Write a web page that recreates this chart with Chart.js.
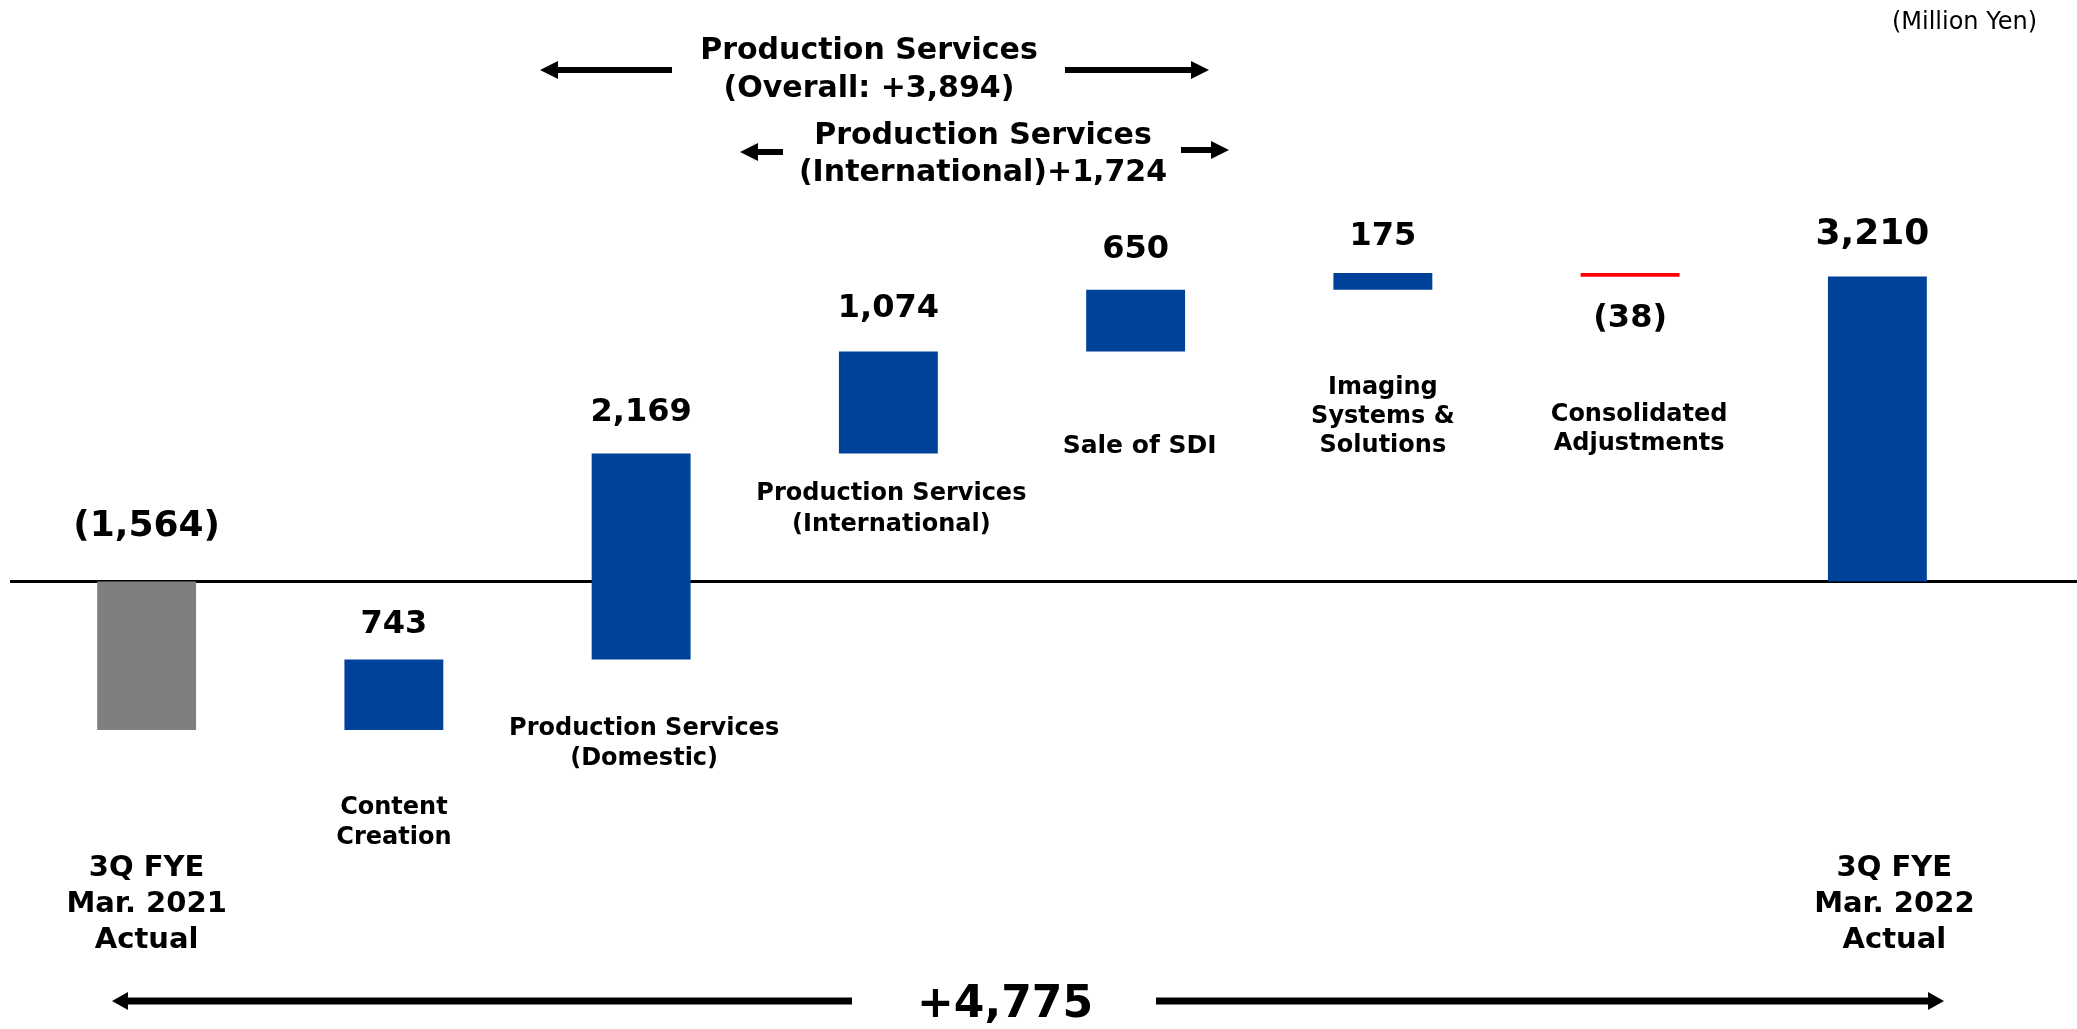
<!DOCTYPE html>
<html lang="en">
<head>
<meta charset="UTF-8">
<title>Operating income bridge</title>
<script src="https://cdn.jsdelivr.net/npm/chart.js@4.4.0/dist/chart.umd.min.js"></script>
<style>
*{box-sizing:border-box;margin:0;padding:0}
body{background:#fff;width:2077px;height:1029px;overflow:hidden}
.wrap{position:relative;width:2077px;height:1029px}
</style>
</head>
<body>
<div class="wrap"><canvas id="bridge"></canvas></div>
<script>
// data
const categories = [
  ["3Q FYE", "Mar. 2021", "Actual"],
  ["Content", "Creation"],
  ["Production Services", "(Domestic)"],
  ["Production Services", "(International)"],
  ["Sale of SDI"],
  ["Imaging", "Systems &", "Solutions"],
  ["Consolidated", "Adjustments"],
  ["3Q FYE", "Mar. 2022", "Actual"]
];
const values = [-1564, 743, 2169, 1074, 650, 175, -38, 3210];
const valueLabels = ["(1,564)", "743", "2,169", "1,074", "650", "175", "(38)", "3,210"];
const kinds = ["total", "step", "step", "step", "step", "step", "step", "total"];
const unitLabel = "(Million Yen)";
const overallText = ["Production Services", "(Overall: +3,894)"];
const intlText = ["Production Services", "(International)+1,724"];
const totalChange = "+4,775";

// floating ranges for the waterfall
let cum = 0;
const ranges = values.map((v, i) => {
  if (kinds[i] === "total") { cum = v; return [0, v]; }
  const r = [cum, cum + v];
  cum += v;
  return r;
});
const barColors = values.map((v, i) => i === 0 ? "#7f7f7f" : (kinds[i] === "step" && v < 0 ? "#ff0000" : "#00419a"));

// layout for the hand-placed texts (px)
const catLabelPos = [
  { dx: 0, y: 868, gap: 36, size: 29 },
  { dx: 0, y: 808, gap: 30, size: 24 },
  { dx: 3, y: 729, gap: 30, size: 24 },
  { dx: 3, y: 494, gap: 31, size: 24 },
  { dx: 4, y: 446, gap: 30, size: 25 },
  { dx: 0, y: 388, gap: 29, size: 24 },
  { dx: 9, y: 415, gap: 29, size: 24 },
  { dx: 17, y: 868, gap: 36, size: 29 }
];
const valueOffset = [55, 35, 41, 43, 40, 36, 42, 42];
const valueDx = [0, 0, 0, 0, 0, 0, 0, -5];
const FONT = "'DejaVu Sans', Verdana, sans-serif";

function arrow(ctx, x1, x2, y, w, hl, hw) {
  // arrow from x1 (tail) to x2 (tip)
  const dir = x2 > x1 ? 1 : -1;
  ctx.fillStyle = "#000";
  ctx.fillRect(Math.min(x1, x2 - dir * hl), y - w / 2, Math.abs(x2 - dir * hl - x1), w);
  ctx.beginPath();
  ctx.moveTo(x2, y);
  ctx.lineTo(x2 - dir * hl, y - hw);
  ctx.lineTo(x2 - dir * hl, y + hw);
  ctx.closePath();
  ctx.fill();
}

function lines(ctx, arr, x, y, gap) {
  arr.forEach((t, k) => ctx.fillText(t, x, y + k * gap));
}

const decor = {
  id: "decor",
  beforeDatasetsDraw(chart) {
    const { ctx, scales: { y } } = chart;
    const y0 = y.getPixelForValue(0);
    ctx.save();
    ctx.fillStyle = "#000";
    ctx.fillRect(10, y0 - 1.5, chart.width - 10, 3);
    ctx.restore();
  },
  afterDatasetsDraw(chart) {
    const { ctx, scales: { x, y } } = chart;
    ctx.save();
    ctx.fillStyle = "#000";
    ctx.textAlign = "center";
    ctx.textBaseline = "middle";

    // value labels
    ranges.forEach((r, i) => {
      const big = kinds[i] === "total";
      ctx.font = `bold ${big ? 36 : 32}px ${FONT}`;
      const cx = x.getPixelForValue(i) + valueDx[i];
      let ly;
      if (kinds[i] === "step" && values[i] < 0) {
        ly = y.getPixelForValue(Math.min(r[0], r[1])) + valueOffset[i];
      } else {
        ly = y.getPixelForValue(Math.max(r[0], r[1])) - valueOffset[i];
      }
      ctx.fillText(valueLabels[i], cx, ly);
    });

    // category labels
    categories.forEach((c, i) => {
      const p = catLabelPos[i];
      ctx.font = `bold ${p.size}px ${FONT}`;
      lines(ctx, c, x.getPixelForValue(i) + p.dx, p.y, p.gap);
    });

    // top annotations
    ctx.font = `bold 30px ${FONT}`;
    lines(ctx, overallText, 869, 51, 38);
    lines(ctx, intlText, 983, 136, 37);
    arrow(ctx, 672, 540, 70, 6, 18, 9);
    arrow(ctx, 1065, 1209, 70, 6, 18, 9);
    arrow(ctx, 783, 740, 152, 6, 18, 9);
    arrow(ctx, 1181, 1229, 150, 6, 18, 9);

    // total change
    ctx.font = `bold 44px ${FONT}`;
    ctx.fillText(totalChange, 1005, 1006);
    arrow(ctx, 852, 112, 1001, 7, 16, 9);
    arrow(ctx, 1156, 1944, 1001, 7, 16, 9);

    // unit
    ctx.font = `24px ${FONT}`;
    ctx.textAlign = "right";
    ctx.fillText(unitLabel, 2037, 23);
    ctx.restore();
  }
};

new Chart(document.getElementById("bridge"), {
  type: "bar",
  data: {
    labels: categories.map(c => c.join(" ")),
    datasets: [{
      data: ranges,
      backgroundColor: barColors,
      borderWidth: 0,
      categoryPercentage: 1,
      barPercentage: 0.4
    }]
  },
  options: {
    responsive: true, maintainAspectRatio: false, animation: false,
    layout: { padding: { left: 23, right: 76, top: 106.5, bottom: 67.5 } },
    plugins: { legend: { display: false }, tooltip: { enabled: false } },
    scales: {
      x: { display: false },
      y: { display: false, min: -4000, max: 5000 }
    }
  },
  plugins: [decor]
});
</script>
</body>
</html>
